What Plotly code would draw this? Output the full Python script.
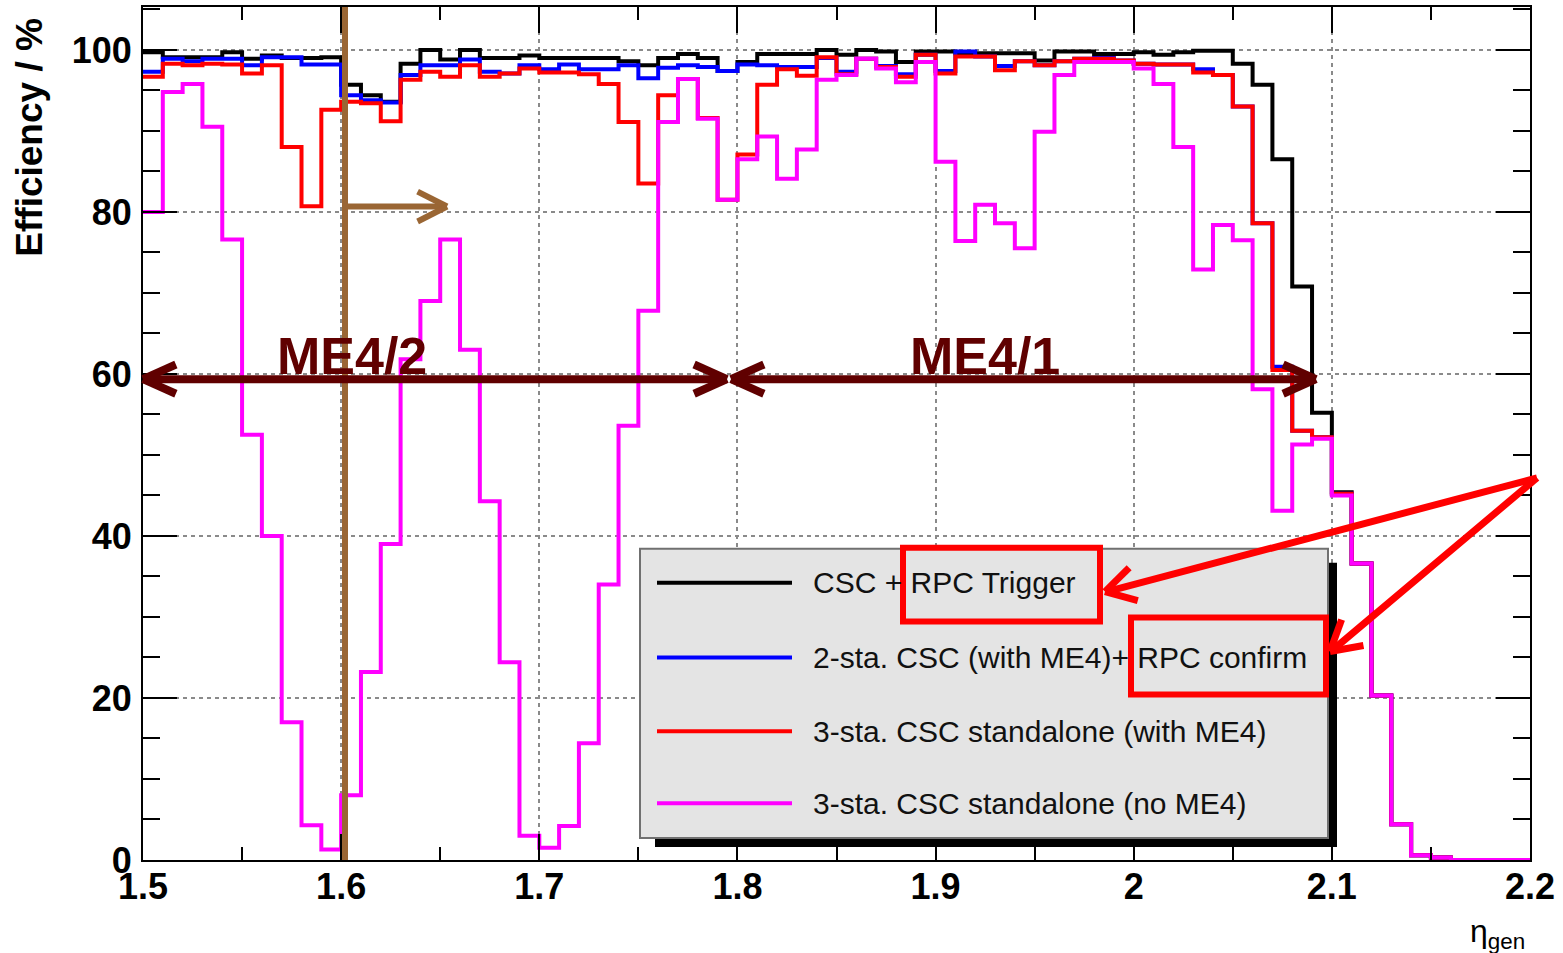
import numpy as np
import plotly.graph_objects as go

# ---------------- data ----------------
eta_edges = np.round(np.linspace(1.5, 2.2, 71), 3)   # 70 bins of width 0.01

eff_csc_rpc_trigger = [
    99.7, 99.1, 99.1, 99.1, 99.7, 98.9, 99.3, 99.0, 99.0, 99.1,
    95.7, 94.4, 93.6, 98.3, 100.0, 98.8, 100.0, 99.0, 99.0, 99.3,
    99.0, 99.0, 99.0, 99.0, 98.6, 98.1, 99.0, 99.5, 99.0, 97.4,
    98.5, 99.5, 99.5, 99.5, 100.0, 99.4, 100.0, 99.8, 98.5, 99.8,
    99.8, 99.6, 99.6, 99.6, 99.6, 98.7, 99.8, 99.8, 99.5, 99.5,
    99.7, 99.4, 99.7, 99.9, 99.9, 98.3, 95.7, 86.5, 70.8, 55.2,
    45.4, 36.6, 20.3, 4.4, 0.6, 0.3, 0.0, 0.0, 0.0, 0.0]

eff_2sta_rpc_confirm = [
    97.3, 98.9, 98.6, 98.9, 98.9, 98.1, 99.1, 99.1, 98.2, 98.2,
    94.4, 93.8, 93.5, 96.9, 98.1, 98.1, 98.8, 97.3, 97.1, 98.1,
    97.6, 98.2, 97.6, 97.6, 98.1, 96.5, 97.8, 98.1, 97.9, 97.4,
    98.2, 98.1, 97.9, 97.9, 99.0, 97.3, 98.9, 98.0, 97.0, 99.4,
    97.4, 99.8, 99.2, 98.0, 98.6, 98.1, 98.6, 98.9, 99.0, 98.7,
    98.3, 98.2, 98.2, 97.6, 96.9, 93.0, 78.6, 60.9, 53.0, 52.2,
    45.2, 36.6, 20.3, 4.4, 0.6, 0.3, 0.0, 0.0, 0.0, 0.0]

eff_3sta_with_me4 = [
    96.7, 98.3, 98.1, 98.3, 98.2, 97.1, 98.1, 88.0, 80.7, 92.6,
    93.6, 93.4, 91.2, 96.3, 97.3, 96.7, 98.1, 96.7, 97.1, 97.7,
    97.2, 97.2, 97.0, 95.8, 91.1, 83.5, 94.4, 96.4, 91.6, 81.5,
    87.1, 95.7, 97.6, 96.8, 99.1, 97.0, 98.9, 97.9, 96.7, 99.4,
    97.1, 99.2, 99.2, 97.5, 98.6, 98.1, 98.6, 98.9, 98.9, 98.7,
    98.3, 98.2, 98.2, 97.2, 96.9, 93.0, 78.6, 60.5, 53.0, 52.2,
    45.2, 36.6, 20.3, 4.4, 0.6, 0.3, 0.0, 0.0, 0.0, 0.0]

eff_3sta_no_me4 = [
    80.0, 94.8, 95.8, 90.5, 76.6, 52.5, 40.0, 17.0, 4.3, 1.3,
    8.0, 23.2, 39.0, 61.8, 69.0, 76.6, 63.0, 44.3, 24.4, 3.0,
    1.5, 4.2, 14.4, 34.0, 53.6, 67.8, 91.1, 96.4, 91.5, 81.5,
    86.5, 89.3, 84.1, 87.7, 96.3, 96.9, 98.9, 97.7, 96.0, 98.5,
    86.2, 76.4, 80.9, 78.6, 75.5, 89.9, 96.9, 98.5, 98.5, 98.5,
    97.7, 95.8, 88.0, 72.9, 78.4, 76.5, 58.1, 43.1, 51.3, 52.0,
    45.0, 36.6, 20.3, 4.4, 0.6, 0.3, 0.0, 0.0, 0.0, 0.0]

series_names = [
    "CSC + RPC Trigger",
    "2-sta. CSC (with ME4)+ RPC confirm",
    "3-sta. CSC standalone (with ME4)",
    "3-sta. CSC standalone (no ME4)",
]
series_values = [eff_csc_rpc_trigger, eff_2sta_rpc_confirm, eff_3sta_with_me4, eff_3sta_no_me4]
series_colors = ["#000000", "#0000ff", "#ff0000", "#ff00ff"]

x_tick_vals = [1.5, 1.6, 1.7, 1.8, 1.9, 2.0, 2.1, 2.2]
x_tick_text = ["1.5", "1.6", "1.7", "1.8", "1.9", "2", "2.1", "2.2"]
y_tick_vals = [0, 20, 40, 60, 80, 100]
y_tick_text = ["0", "20", "40", "60", "80", "100"]

# ---------------- geometry helpers (pixel -> paper) ----------------
W, H = 1563, 953
L, R, T, B = 143, 1530, 5, 860


def px(x):
    return (x - L) / (R - L)


def py(y):
    return (B - y) / (B - T)


shapes = []


def seg(x0, y0, x1, y1, color, width, dash=None):
    line = dict(color=color, width=width)
    if dash:
        line["dash"] = dash
    shapes.append(dict(type="line", xref="paper", yref="paper",
                       x0=px(x0), y0=py(y0), x1=px(x1), y1=py(y1), line=line))


def chevron(tipx, tipy, fromx, fromy, length, angle_deg, color, width):
    v = np.array([fromx - tipx, fromy - tipy], dtype=float)
    v /= np.linalg.norm(v)
    for s in (1, -1):
        a = np.radians(s * angle_deg)
        rot = np.array([[np.cos(a), -np.sin(a)], [np.sin(a), np.cos(a)]])
        d = rot @ v
        seg(tipx, tipy, tipx + length * d[0], tipy + length * d[1], color, width)


def rect(x0, y0, x1, y1, line_color=None, line_width=0, fill=None):
    d = dict(type="rect", xref="paper", yref="paper",
             x0=px(x0), y0=py(y0), x1=px(x1), y1=py(y1),
             line=dict(color=line_color or "rgba(0,0,0,0)", width=line_width))
    if fill:
        d["fillcolor"] = fill
    shapes.append(d)


# ---------------- figure ----------------
fig = go.Figure()
for name, vals, col in zip(series_names, series_values, series_colors):
    fig.add_trace(go.Scatter(
        x=eta_edges, y=list(vals) + [vals[-1]], mode="lines",
        line=dict(color=col, width=4, shape="hv"), name=name,
        showlegend=False, hoverinfo="skip"))

MAROON = "#600000"
BROWN = "#9a6634"
RED = "#ff0000"

# brown vertical line at eta=1.6 and arrow
seg(345, 5, 345, 860, BROWN, 6)
seg(345, 205, 446, 205, BROWN, 6)
chevron(447, 205, 345, 205, 33, 27, BROWN, 6)

# ME4/2 and ME4/1 double arrows
seg(143, 378, 727, 378, MAROON, 8)
chevron(143, 378, 727, 378, 36, 24, MAROON, 8)
chevron(727, 378, 143, 378, 36, 24, MAROON, 8)
seg(731, 378, 1316, 378, MAROON, 8)
chevron(731, 378, 1316, 378, 36, 24, MAROON, 8)
chevron(1316, 378, 731, 378, 36, 24, MAROON, 8)

# legend box with shadow
rect(655, 838, 1337, 847, fill="black")
rect(1328, 562, 1337, 847, fill="black")
rect(640, 548, 1328, 838, line_color="#707070", line_width=2, fill="#e4e4e4")
legend_y = [582, 657, 731, 803]
for yy, col in zip(legend_y, series_colors):
    seg(657, yy, 792, yy, col, 4)

# red highlight boxes and arrows
rect(903, 547, 1100, 621, line_color=RED, line_width=6)
rect(1131, 617, 1326, 694, line_color=RED, line_width=6)
seg(1537, 477, 1107, 591, RED, 7)
chevron(1105, 591, 1537, 477, 34, 30, RED, 7)
seg(1537, 477, 1332, 650, RED, 7)
chevron(1330, 651, 1537, 477, 34, 30, RED, 7)

annotations = []
FONT = "Liberation Sans, Arial, sans-serif"
for yy, name in zip(legend_y, series_names):
    annotations.append(dict(xref="paper", yref="paper", x=px(811), y=py(yy),
                            text=name, showarrow=False, xanchor="left", yanchor="middle",
                            font=dict(family=FONT, size=30, color="#111111")))

annotations.append(dict(xref="paper", yref="paper", x=px(352), y=py(355), text="<b>ME4/2</b>",
                        showarrow=False, xanchor="center", yanchor="middle",
                        font=dict(family=FONT, size=52, color=MAROON)))
annotations.append(dict(xref="paper", yref="paper", x=px(985), y=py(355), text="<b>ME4/1</b>",
                        showarrow=False, xanchor="center", yanchor="middle",
                        font=dict(family=FONT, size=52, color=MAROON)))
annotations.append(dict(xref="paper", yref="paper", x=px(30), y=py(136), text="<b>Efficiency / %</b>",
                        showarrow=False, textangle=-90, xanchor="center", yanchor="middle",
                        font=dict(family=FONT, size=37, color="black")))
annotations.append(dict(xref="paper", yref="paper", x=px(1527), y=py(934), text="η<sub>gen</sub>",
                        showarrow=False, xanchor="right", yanchor="middle",
                        font=dict(family=FONT, size=32, color="black")))

tickfont = dict(family=FONT, size=36, color="black", weight="bold")
fig.update_layout(
    width=W, height=H,
    margin=dict(l=L, r=W - R, t=T, b=H - B),
    plot_bgcolor="white", paper_bgcolor="white",
    showlegend=False,
    shapes=shapes, annotations=annotations,
    xaxis=dict(range=[1.5, 2.2], tickvals=x_tick_vals, ticktext=x_tick_text,
               ticks="inside", ticklen=26, tickwidth=2, tickcolor="black",
               showline=True, linecolor="black", linewidth=2, mirror="ticks",
               showgrid=True, gridcolor="#8a8a8a", gridwidth=1.5, griddash="4px,4px",
               zeroline=False, tickfont=tickfont, ticklabelstandoff=-6,
               minor=dict(dtick=0.05, tick0=1.5, ticks="inside", ticklen=13,
                          tickcolor="black", tickwidth=1.5, showgrid=False)),
    yaxis=dict(range=[0, (B - T) / 8.12], tickvals=y_tick_vals, ticktext=y_tick_text,
               ticks="inside", ticklen=34, tickwidth=2, tickcolor="black",
               showline=True, linecolor="black", linewidth=2, mirror="ticks",
               showgrid=True, gridcolor="#8a8a8a", gridwidth=1.5, griddash="4px,4px",
               zeroline=False, tickfont=tickfont, ticklabelstandoff=2,
               minor=dict(dtick=5, tick0=0, ticks="inside", ticklen=17,
                          tickcolor="black", tickwidth=1.5, showgrid=False)),
)

fig.write_html("out.html", config={"displayModeBar": False},
               post_script="document.body.style.margin='0px';document.body.style.overflow='hidden';")
